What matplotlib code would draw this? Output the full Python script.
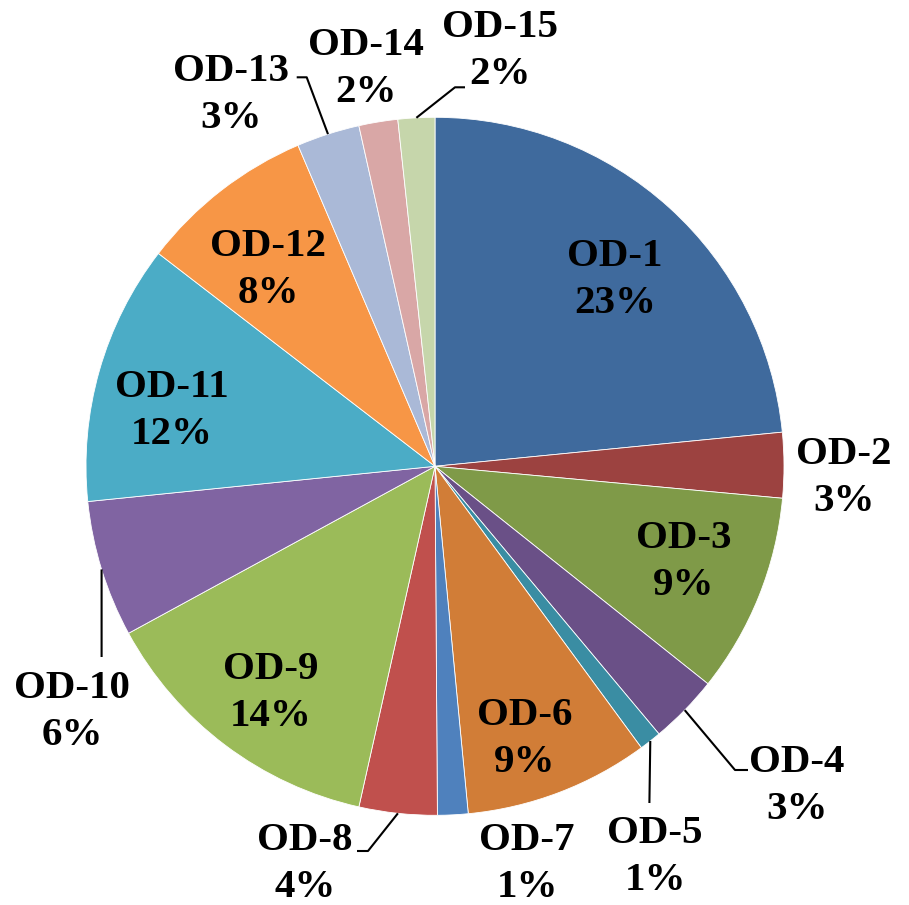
import matplotlib
matplotlib.use("Agg")
import matplotlib.pyplot as plt
import numpy as np

# ---- data ----
categories = ["OD-1", "OD-2", "OD-3", "OD-4", "OD-5", "OD-6", "OD-7", "OD-8",
              "OD-9", "OD-10", "OD-11", "OD-12", "OD-13", "OD-14", "OD-15"]
shares = [23.44, 3.02, 9.25, 3.20, 1.02, 8.55, 1.41, 3.61,
          13.56, 6.33, 12.05, 8.14, 2.92, 1.80, 1.70]

# ---- styles / layout ----
colors = ["#3F6A9D", "#9C4240", "#7F9A48", "#6A5087", "#3A8DA3", "#D17D37",
          "#4F81BD", "#C0504D", "#9BBB59", "#8064A2", "#4BACC6", "#F79646",
          "#AAB9D7", "#D9A7A6", "#C6D6AB"]

W, H = 909, 905
cx, cy_img, R = 435, 466.3, 349

# label block centres (image pixel coords)
label_pos = [(615, 280), (844, 478), (684, 562), (797, 786), (655, 857),
             (525, 739), (527, 864), (305, 864), (271, 693), (72, 712),
             (172, 411), (268, 270), (231, 95), (366, 69), (500, 51)]
# leader line elbows (image pixel coords)
leaders = {3: [(735, 770), (748, 770)],
           4: [(649.4, 803)],
           7: [(368, 851), (357, 851)],
           9: [(101.6, 657)],
           12: [(306.7, 77.3), (296.7, 77.3)],
           14: [(455, 87.3), (465, 87.3)]}

fig = plt.figure(figsize=(W / 100, H / 100), dpi=100)
ax = fig.add_axes([0, 0, 1, 1])
ax.set_xlim(0, W)
ax.set_ylim(0, H)
ax.set_aspect("equal")
ax.axis("off")

wedges, _ = ax.pie(shares, colors=colors, startangle=90, counterclock=False,
                   center=(cx, H - cy_img), radius=R,
                   wedgeprops=dict(edgecolor="white", linewidth=0.6))
ax.set_xlim(0, W)
ax.set_ylim(0, H)

total = sum(shares)
cum = np.cumsum([0] + shares[:-1])
for i, (name, v) in enumerate(zip(categories, shares)):
    pct = 100 * v / total
    x, y = label_pos[i]
    ax.text(x, H - y, f"{name}\n{pct:.0f}%", ha="center", va="center",
            multialignment="center", fontsize=29.5, fontweight="bold",
            family="Liberation Serif", linespacing=1.38, color="black")
    if i in leaders:
        mid = (cum[i] + v / 2) / total * 360
        theta = np.deg2rad(90 - mid)
        sx = cx + R * np.cos(theta)
        sy = (H - cy_img) + R * np.sin(theta)
        xs = [sx] + [p[0] for p in leaders[i]]
        ys = [sy] + [H - p[1] for p in leaders[i]]
        ax.plot(xs, ys, color="black", linewidth=1.5, solid_capstyle="butt")

fig.savefig("out.png", dpi=100)
